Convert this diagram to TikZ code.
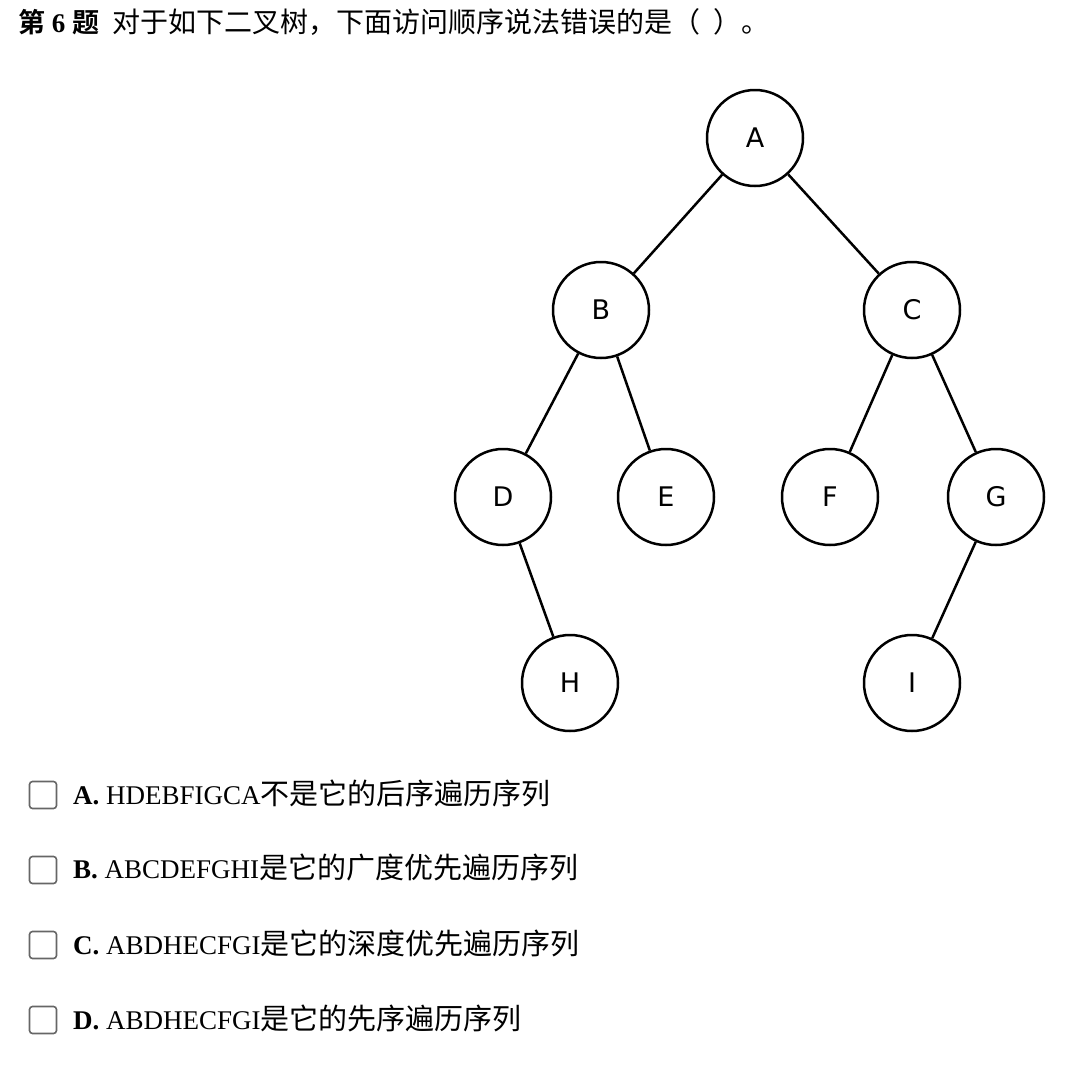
\documentclass[tikz,border=0pt]{standalone}
\usepackage{fontspec}
\setmainfont{Liberation Serif}
\newfontfamily\cjk{Noto Sans CJK SC}
\newfontfamily\cjkb{Noto Sans CJK SC Bold}
\newfontfamily\lett{DejaVu Sans}
\begin{document}
\begin{tikzpicture}[x=1pt,y=-1pt,
  tn/.style={circle,draw,line width=2.5pt,minimum size=96pt,inner sep=0pt,font=\lett\fontsize{27}{27}\selectfont},
  ed/.style={line width=2.5pt},
  box/.style={draw=gray!80!black,line width=1.6pt,rounded corners=3pt,minimum size=27pt,inner sep=0pt},
  opt/.style={anchor=west,font=\fontsize{27}{27}\selectfont,inner sep=0pt}]
\useasboundingbox (0,0) rectangle (1080,1066);
\node[anchor=west,inner sep=0pt,font=\fontsize{27}{27}\selectfont] (title) at (18,22) {{\cjkb 第} \textbf{6} {\cjkb 题}\ \ {\cjk\fontsize{28}{28}\selectfont 对于如下二叉树，下面访问顺序说法错误的是（\ \ ）。}};
\node[tn] (A) at (755,138) {A};
\node[tn] (B) at (601,310) {B};
\node[tn] (C) at (912,310) {C};
\node[tn] (D) at (503,497) {D};
\node[tn] (E) at (666,497) {E};
\node[tn] (F) at (830,497) {F};
\node[tn] (G) at (996,497) {G};
\node[tn] (H) at (570,683) {H};
\node[tn] (I) at (912,683) {I};
\foreach \a/\b in {A/B,A/C,B/D,B/E,C/F,C/G,D/H,G/I} \draw[ed] (\a) -- (\b);
\foreach \y/\l/\s/\t [count=\i] in {795/A/HDEBFIGCA/不是它的后序遍历序列,870/B/ABCDEFGHI/是它的广度优先遍历序列,945/C/ABDHECFGI/是它的深度优先遍历序列,1020/D/ABDHECFGI/是它的先序遍历序列}{
  \node[box] (b\i) at (43,\y) {};
  \node[opt] (o\i) at (73,\y-2) {\textbf{\l.} \s{\cjk\fontsize{29}{29}\selectfont\t}};
}
\end{tikzpicture}
\end{document}
